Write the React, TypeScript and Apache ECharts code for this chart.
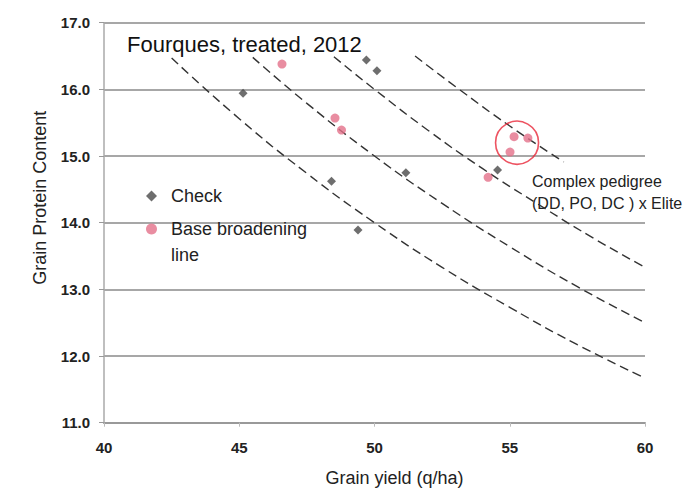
import React, { useEffect, useRef } from "react";
import * as echarts from "echarts";

const checkPoints: [number, number][] = [
  [45.14, 15.94],
  [49.7, 16.44],
  [50.09, 16.28],
  [48.41, 14.62],
  [51.16, 14.75],
  [49.39, 13.89],
  [54.55, 14.79],
];

const basePoints: [number, number][] = [
  [46.58, 16.38],
  [48.54, 15.57],
  [48.78, 15.39],
  [54.2, 14.68],
  [55.16, 15.29],
  [55.67, 15.27],
  [55.01, 15.06],
];

// iso-lines (dashed)
const isoLine1: [number, number][] = [
  [42.5, 16.47], [45, 15.56], [47.5, 14.74], [50, 14.0], [52.5, 13.33], [55, 12.73], [57.5, 12.17], [60, 11.67],
];
const isoLine2: [number, number][] = [
  [45.5, 16.48], [47.5, 15.79], [50, 15.0], [52.5, 14.29], [55, 13.64], [57.5, 13.04], [60, 12.5],
];
const isoLine3: [number, number][] = [
  [48.5, 16.49], [50, 16.0], [52, 15.38], [54, 14.81], [56, 14.29], [58, 13.79], [60, 13.33],
];
const isoLine4: [number, number][] = [
  [51.5, 16.5], [53, 16.04], [55, 15.45], [57, 14.91],
];

const highlightCenter: [number, number][] = [[55.27, 15.2]];

const yTicks = [11, 12, 13, 14, 15, 16, 17];
const xTicks = [40, 45, 50, 55, 60];

const FONT = "Liberation Sans, Arial, sans-serif";

export default function App() {
  const ref = useRef<HTMLDivElement>(null);
  useEffect(() => {
    if (!ref.current) return;
    const chart = echarts.init(ref.current, undefined, { renderer: "svg" });
    const dashed = (data: [number, number][]) => ({
      type: "line" as const,
      data,
      smooth: true,
      symbol: "none",
      silent: true,
      lineStyle: { color: "#333", width: 1.4, type: [9, 5] },
      z: 2,
    });
    chart.setOption({
      animation: false,
      backgroundColor: "#fff",
      textStyle: { fontFamily: FONT },
      title: {
        text: "Fourques, treated, 2012",
        left: 122,
        top: 28,
        textStyle: { fontSize: 22, fontWeight: "normal", color: "#111", fontFamily: FONT },
      },
      grid: { left: 104, right: 50, top: 22.7, bottom: 65.3, outerBoundsMode: "none", containLabel: false },
      xAxis: {
        type: "value",
        min: xTicks[0],
        max: xTicks[xTicks.length - 1],
        interval: 5,
        name: "Grain yield (q/ha)",
        nameLocation: "middle",
        nameGap: 46,
        nameTextStyle: { fontSize: 18, color: "#222", padding: [0, 0, 0, 40], fontFamily: FONT },
        axisLine: { lineStyle: { color: "#999", width: 2 } },
        axisTick: { show: true, length: 4, lineStyle: { color: "#bbb" } },
        axisLabel: { fontSize: 15, color: "#222", fontWeight: "bold", margin: 17, fontFamily: FONT },
        splitLine: { show: false },
      },
      yAxis: {
        type: "value",
        min: yTicks[0],
        max: yTicks[yTicks.length - 1],
        interval: 1,
        name: "Grain Protein Content",
        nameLocation: "middle",
        nameGap: 55,
        nameTextStyle: { fontSize: 18, color: "#222", padding: [0, 0, 0, 50], fontFamily: FONT },
        axisLine: { show: true, lineStyle: { color: "#aaa", width: 1.5 } },
        axisTick: { show: true, length: 5, lineStyle: { color: "#999" } },
        axisLabel: {
          fontSize: 15,
          color: "#222",
          fontWeight: "bold",
          margin: 14,
          fontFamily: FONT,
          formatter: (v: number) => v.toFixed(1),
        },
        splitLine: { show: true, lineStyle: { color: "#8a8a8a", width: 1.5 } },
      },
      legend: {
        orient: "vertical",
        left: 141,
        top: 182,
        itemGap: 15,
        itemWidth: 11,
        itemHeight: 11,
        data: [
          { name: "Check", icon: "diamond" },
          { name: "Base broadening line", icon: "circle" },
        ],
        formatter: (name: string) => (name === "Base broadening line" ? "Base broadening" : name),
        textStyle: { fontSize: 18, color: "#222", fontFamily: FONT, padding: [0, 0, 0, 9] },
      },
      graphic: [
        {
          type: "text",
          left: 171,
          top: 246,
          style: { text: "line", fontSize: 18, fill: "#222", fontFamily: FONT },
        },
        {
          type: "text",
          left: 532,
          top: 170,
          style: {
            text: "Complex pedigree\n(DD, PO, DC ) x Elite",
            fontSize: 16,
            lineHeight: 22,
            fill: "#222",
            fontFamily: FONT,
          },
        },
      ],
      series: [
        dashed(isoLine1),
        dashed(isoLine2),
        dashed(isoLine3),
        dashed(isoLine4),
        {
          name: "Check",
          type: "scatter",
          data: checkPoints,
          symbol: "diamond",
          symbolSize: 9,
          itemStyle: { color: "#4a4a4a" },
          z: 3,
        },
        {
          name: "Base broadening line",
          type: "scatter",
          data: basePoints,
          symbol: "circle",
          symbolSize: 9,
          itemStyle: { color: "#e4708a" },
          z: 4,
        },
        {
          type: "scatter",
          data: highlightCenter,
          symbol: "circle",
          symbolSize: 43,
          silent: true,
          itemStyle: { color: "rgba(0,0,0,0)", borderColor: "#e8283a", borderWidth: 1.6 },
          z: 5,
        },
      ],
    });
    return () => chart.dispose();
  }, []);
  return (
    <div
      ref={ref}
      style={{ position: "fixed", left: 0, top: 0, width: 695, height: 488 }}
    />
  );
}
